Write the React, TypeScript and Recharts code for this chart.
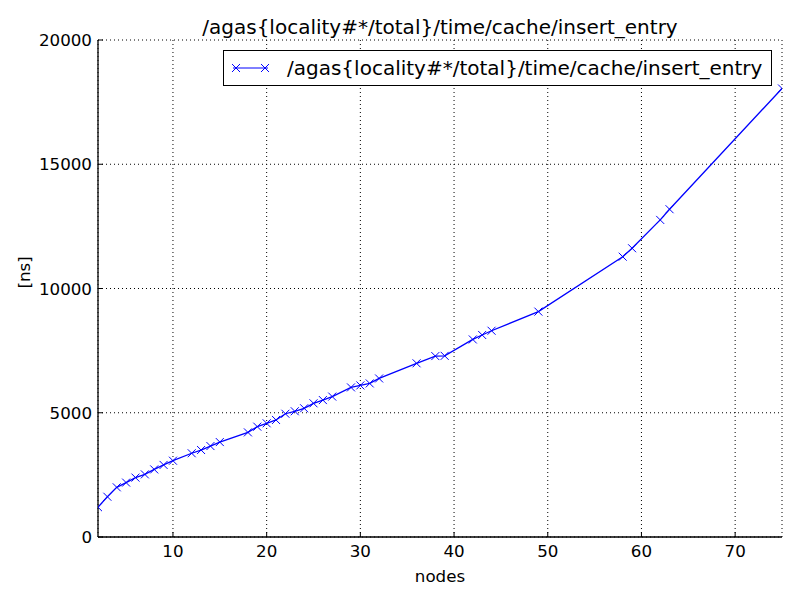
import React from "react";
import { LineChart, Line, XAxis, YAxis, CartesianGrid } from "recharts";

const nodes = [
  2, 3, 4, 5, 6, 7, 8, 9, 10, 12, 13, 14, 15, 18, 19, 20, 21, 22, 23, 24, 25,
  26, 27, 29, 30, 31, 32, 36, 38, 39, 42, 43, 44, 49, 58, 59, 62, 63, 75,
];
const insertNs = [
  1200, 1620, 2000, 2190, 2390, 2520, 2720, 2900, 3070, 3370, 3500, 3660, 3820,
  4210, 4440, 4575, 4710, 4960, 5060, 5180, 5380, 5510, 5650, 6020, 6100, 6180,
  6380, 6990, 7280, 7290, 7950, 8130, 8300, 9070, 11280, 11620, 12760, 13190,
  18050,
];
const xTicks = [10, 20, 30, 40, 50, 60, 70];
const yTicks = [0, 5000, 10000, 15000, 20000];

const seriesName = "/agas{locality#*/total}/time/cache/insert_entry";
const data = nodes.map((n, i) => ({ nodes: n, value: insertNs[i] }));

const FONT = "DejaVu Sans";
const FS = 16.7;
const TITLE_FS = 20;
const BLUE = "#0000ff";
const TICK_LEN = 5;

const XMark = (props: any) => {
  const { cx, cy } = props;
  if (cx == null || cy == null) return null;
  const s = 4;
  return (
    <g>
      <line x1={cx - s} y1={cy - s} x2={cx + s} y2={cy + s} stroke={BLUE} strokeWidth={1} />
      <line x1={cx - s} y1={cy + s} x2={cx + s} y2={cy - s} stroke={BLUE} strokeWidth={1} />
    </g>
  );
};

const BottomTick = (props: any) => {
  const { x, y, payload } = props;
  const axisY = y - 8;
  return (
    <g>
      <line x1={x} y1={axisY} x2={x} y2={axisY - TICK_LEN} stroke="#000" />
      <text x={x} y={axisY + 20} textAnchor="middle" fontSize={FS} fontFamily={FONT} fill="#000">
        {payload.value}
      </text>
    </g>
  );
};

const TopTick = (props: any) => {
  const { x, y } = props;
  const axisY = y + 8;
  return <line x1={x} y1={axisY} x2={x} y2={axisY + TICK_LEN} stroke="#000" />;
};

const LeftTick = (props: any) => {
  const { x, y, payload } = props;
  const axisX = x + 8;
  return (
    <g>
      <line x1={axisX} y1={y} x2={axisX + TICK_LEN} y2={y} stroke="#000" />
      <text x={axisX - 6} y={y + 6} textAnchor="end" fontSize={FS} fontFamily={FONT} fill="#000">
        {payload.value}
      </text>
    </g>
  );
};

const RightTick = (props: any) => {
  const { x, y } = props;
  const axisX = x - 8;
  return <line x1={axisX} y1={y} x2={axisX - TICK_LEN} y2={y} stroke="#000" />;
};

export default function App() {
  return (
    <div style={{ position: "absolute", left: 0, top: 0, width: 800, height: 600, background: "#fff" }}>
      <div
        style={{
          position: "absolute",
          top: 16,
          left: 98,
          width: 684,
          textAlign: "center",
          fontFamily: FONT,
          fontSize: TITLE_FS,
          lineHeight: "22px",
          color: "#000",
        }}
      >
        {seriesName}
      </div>
      <LineChart
        width={800}
        height={600}
        data={data}
        margin={{ top: 40, right: 18, bottom: 0, left: 0 }}
      >
        <CartesianGrid xAxisId="b" yAxisId="l" stroke="#000" strokeDasharray="1 3" />
        <XAxis
          xAxisId="b"
          dataKey="nodes"
          type="number"
          domain={[2, 75]}
          ticks={xTicks}
          allowDataOverflow
          height={63}
          axisLine={{ stroke: "#000", strokeWidth: 1.3 }}
          tickLine={false}
          tick={<BottomTick />}
          label={{ value: "nodes", position: "insideBottom", offset: 18, fontSize: FS, fontFamily: FONT, fill: "#000" }}
        />
        <XAxis
          xAxisId="t"
          dataKey="nodes"
          type="number"
          orientation="top"
          domain={[2, 75]}
          ticks={xTicks}
          allowDataOverflow
          height={0}
          axisLine={{ stroke: "#000", strokeWidth: 1.3 }}
          tickLine={false}
          tick={<TopTick />}
        />
        <YAxis
          yAxisId="l"
          type="number"
          domain={[0, 20000]}
          ticks={yTicks}
          width={98}
          axisLine={{ stroke: "#000", strokeWidth: 1.3 }}
          tickLine={false}
          tick={<LeftTick />}
          label={{ value: "[ns]", angle: -90, position: "insideLeft", offset: 24, fontSize: FS, fontFamily: FONT, fill: "#000" }}
        />
        <YAxis
          yAxisId="r"
          type="number"
          orientation="right"
          domain={[0, 20000]}
          ticks={yTicks}
          width={0}
          axisLine={{ stroke: "#000", strokeWidth: 1.3 }}
          tickLine={false}
          tick={<RightTick />}
        />
        <Line
          xAxisId="b"
          yAxisId="l"
          dataKey="value"
          name={seriesName}
          stroke={BLUE}
          strokeWidth={1.3}
          dot={<XMark />}
          activeDot={false}
          isAnimationActive={false}
        />
      </LineChart>
      <div
        style={{
          position: "absolute",
          top: 50,
          left: 223,
          width: 547,
          height: 34,
          border: "1px solid #000",
          background: "#fff",
          display: "flex",
          alignItems: "center",
          fontFamily: FONT,
          fontSize: TITLE_FS,
          whiteSpace: "nowrap",
        }}
      >
        <svg width={40} height={20} style={{ marginLeft: 8, flex: "none" }}>
          <line x1={1} y1={10} x2={36} y2={10} stroke={BLUE} />
          <XMark cx={4} cy={10} />
          <XMark cx={33} cy={10} />
        </svg>
        <span style={{ marginLeft: 15 }}>{seriesName}</span>
      </div>
    </div>
  );
}
